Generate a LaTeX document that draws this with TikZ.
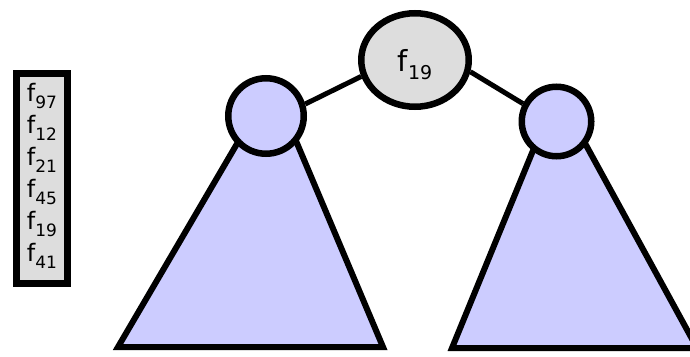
\documentclass[tikz,border=0pt]{standalone}
\usepackage{fontspec}
\setmainfont{DejaVu Sans}
\usetikzlibrary{shapes.geometric}
\definecolor{trifill}{HTML}{CCCCFF}
\definecolor{boxgray}{HTML}{DDDDDD}
\newcommand\fsubbox[1]{f\raisebox{-7pt}{\fontsize{17}{17}\selectfont #1}}
\newcommand\fsubroot[1]{f\raisebox{-8pt}{\fontsize{19}{19}\selectfont #1}}
\begin{document}
\begin{tikzpicture}[x=1pt,y=-1pt,
  tri/.style={draw=black,fill=trifill,line width=6pt,line join=miter},
  subnode/.style={circle,draw=black,fill=trifill,line width=6.5pt,inner sep=0pt},
  rootnode/.style={ellipse,draw=black,fill=boxgray,line width=6.5pt,inner sep=0pt,
    minimum width=107.5pt,minimum height=93.5pt,font=\fontsize{29}{29}\selectfont,
    text height=22pt,text depth=0pt},
  listbox/.style={rectangle,draw=black,fill=boxgray,line width=7pt,inner sep=0pt,
    minimum width=51pt,minimum height=210pt,align=left,
    font=\fontsize{24}{32}\selectfont},
  edge/.style={draw=black,line width=5pt}]
\useasboundingbox (0,0) rectangle (690,356);
% subtrees
\draw[tri] (272,84) -- (118,347) -- (383,347) -- cycle;
\draw[tri] (557,92) -- (452,348) -- (697,348) -- cycle;
% nodes
\node[subnode,minimum size=75.5pt] (L) at (266,116) {};
\node[subnode,minimum size=69.5pt] (R) at (556.5,121.5) {};
\node[rootnode] (root) at (415,60) {\fsubroot{19}};
% connectors
\draw[edge] (root.197) -- (L.17);
\draw[edge] (root.-12) -- (R.152);
% list
\node[listbox] (list) at (42,178.5) {\fsubbox{97}\\\fsubbox{12}\\\fsubbox{21}\\\fsubbox{45}\\\fsubbox{19}\\\fsubbox{41}\raisebox{0pt}[0pt][12pt]{}};
\end{tikzpicture}
\end{document}
